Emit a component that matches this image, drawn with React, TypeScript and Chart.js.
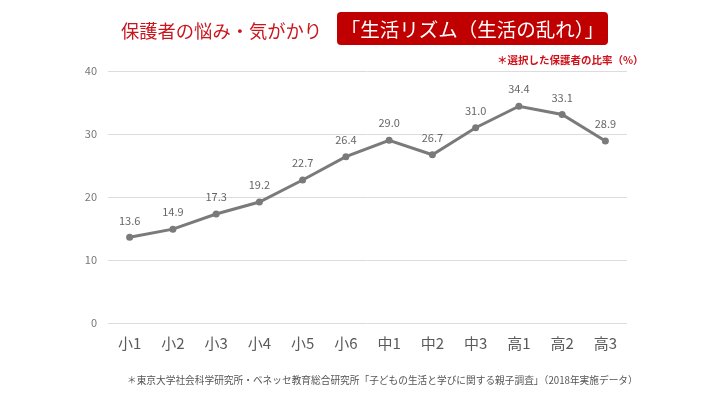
import React, { useEffect, useRef } from "react";
import { Chart, registerables } from "chart.js";

Chart.register(...registerables);

const categories = ["小1", "小2", "小3", "小4", "小5", "小6", "中1", "中2", "中3", "高1", "高2", "高3"];
const values = [13.6, 14.9, 17.3, 19.2, 22.7, 26.4, 29.0, 26.7, 31.0, 34.4, 33.1, 28.9];
const yTicks = [0, 10, 20, 30, 40];

const titleText = "保護者の悩み・気がかり";
const boxText = "「生活リズム（生活の乱れ）」";
const noteText = "＊選択した保護者の比率（%）";
const sourceText = "＊東京大学社会科学研究所・ベネッセ教育総合研究所「子どもの生活と学びに関する親子調査」（2018年実施データ）";

const FONT = "'Noto Sans CJK JP', 'Noto Sans', sans-serif";

const labelPlugin = {
  id: "pointLabels",
  afterDatasetsDraw(chart: any) {
    const { ctx } = chart;
    const meta = chart.getDatasetMeta(0);
    ctx.save();
    ctx.font = "11px " + FONT;
    ctx.fillStyle = "#666";
    ctx.textAlign = "center";
    ctx.textBaseline = "middle";
    meta.data.forEach((pt: any, i: number) => {
      ctx.fillText(values[i].toFixed(1), pt.x, pt.y - 17);
    });
    ctx.restore();
  },
};

export default function App() {
  const ref = useRef<HTMLCanvasElement>(null);
  useEffect(() => {
    if (!ref.current) return;
    const chart = new Chart(ref.current, {
      type: "line",
      data: {
        labels: categories,
        datasets: [
          {
            data: values,
            borderColor: "#7a7a7a",
            backgroundColor: "#7a7a7a",
            borderWidth: 3,
            pointRadius: 3.5,
            pointBackgroundColor: "#7a7a7a",
            pointBorderWidth: 0,
            tension: 0,
          },
        ],
      },
      options: {
        responsive: false,
        animation: false,
        layout: { padding: { left: 0, right: 81, top: 71, bottom: 0 } },
        plugins: { legend: { display: false }, tooltip: { enabled: false } },
        scales: {
          x: {
            offset: true,
            grid: { display: false, drawTicks: false },
            border: { display: false },
            ticks: { color: "#5a5a5a", font: { size: 15, family: FONT }, padding: 11 },
            afterFit: (s: any) => { s.height = 75; },
          },
          y: {
            min: 0,
            max: 40,
            afterBuildTicks: (s: any) => { s.ticks = yTicks.map((v) => ({ value: v })); },
            grid: { color: "#dcdcdc", lineWidth: 1, drawTicks: false },
            border: { display: false },
            ticks: { color: "#777", font: { size: 11, family: FONT }, padding: 11 },
            afterFit: (s: any) => { s.width = 108; },
          },
        },
      },
      plugins: [labelPlugin],
    });
    return () => chart.destroy();
  }, []);

  return (
    <div style={{ position: "absolute", left: 0, top: 0, width: 708, height: 398, background: "#fff", fontFamily: FONT, overflow: "hidden" }}>
      <canvas ref={ref} width={708} height={398} style={{ position: "absolute", left: 0, top: 0 }} />
      <div style={{ position: "absolute", left: 121, top: 15, fontSize: 18.3, color: "#c8161d", whiteSpace: "nowrap", lineHeight: "30px" }}>{titleText}</div>
      <div style={{ position: "absolute", left: 337, top: 12, width: 271, height: 33, background: "#c00000", borderRadius: 4, color: "#fff", fontSize: 19.5, lineHeight: "33px", textAlign: "center", whiteSpace: "nowrap" }}>{boxText}</div>
      <div style={{ position: "absolute", left: 497, top: 51, width: 137, fontSize: 10.5, fontWeight: 700, color: "#d0101a", whiteSpace: "nowrap", lineHeight: "18px", textAlign: "right" }}>{noteText}</div>
      <div style={{ position: "absolute", left: 127, top: 372, fontSize: 9.7, color: "#555", whiteSpace: "nowrap", lineHeight: "16px" }}>{sourceText}</div>
    </div>
  );
}
